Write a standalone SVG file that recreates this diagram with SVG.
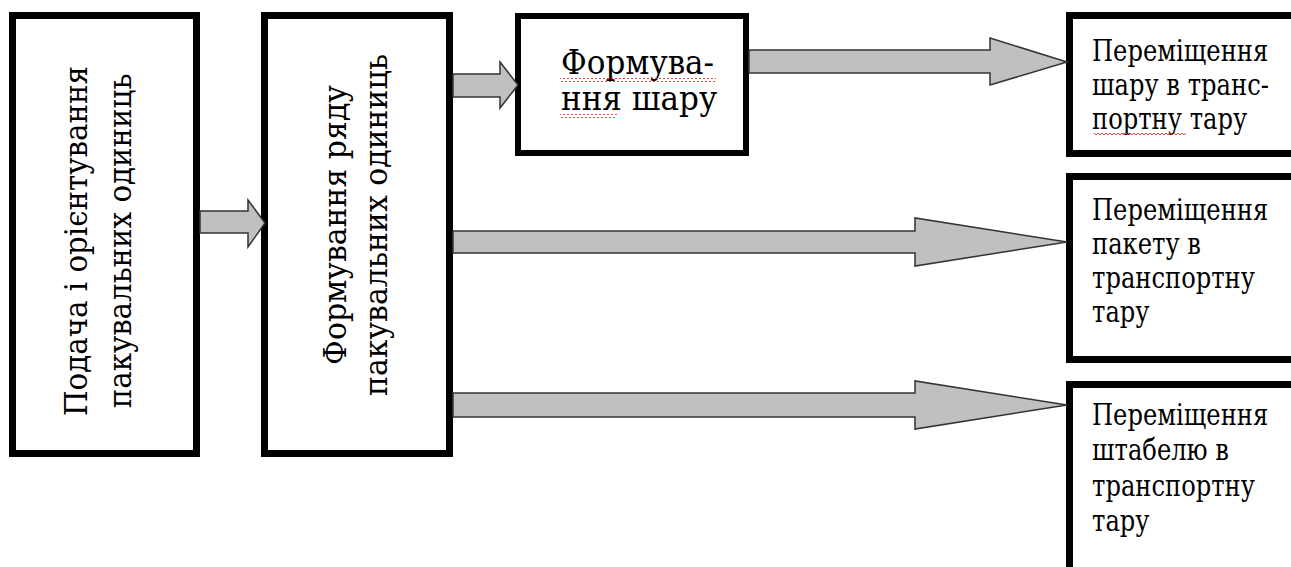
<svg xmlns="http://www.w3.org/2000/svg" width="1291" height="567" viewBox="0 0 1291 567">
<style>
.box{fill:#fff;stroke:#000;stroke-width:7}
.box3{fill:#fff;stroke:#000;stroke-width:6}
.arr{fill:#c0c0c0;stroke:#333;stroke-width:1.5;stroke-linejoin:miter}
text{font-family:'DejaVu Serif','Liberation Serif',serif;fill:#000}
.rot{font-size:32px;text-anchor:middle}
.big{font-size:33px}
.sm{font-size:29px}
</style>
<defs>
<pattern id="wave" x="0" y="0" width="4" height="4" patternUnits="userSpaceOnUse">
<path d="M0,3 L2,1 L4,3" fill="none" stroke="#e03030" stroke-width="0.9"/>
</pattern>
</defs>
<rect width="1291" height="567" fill="#fff"/>
<g id="n1">
<rect class="box" x="12.5" y="15.5" width="184" height="438"/>
<text class="rot" transform="translate(87,241) rotate(-90) scale(0.915,1)"><tspan x="0" y="0">Подача і орієнтування</tspan><tspan x="0" y="44">пакувальних  одиниць</tspan></text>
</g>
<g id="n2">
<rect class="box" x="264.5" y="15.5" width="185" height="438"/>
<text class="rot" transform="translate(346,225) rotate(-90) scale(0.935,1)"><tspan x="0" y="0">Формування ряду</tspan><tspan x="0" y="41">пакувальних  одиниць</tspan></text>
</g>
<g id="n3">
<rect class="box3" x="518" y="16" width="228" height="137"/>
<text class="big" transform="translate(561,0) scale(0.94,1)"><tspan x="0" y="74">Формува-</tspan><tspan x="0" y="110">ння шару</tspan></text>
<rect x="560" y="78" width="156" height="4" fill="url(#wave)"/>
<rect x="560" y="114" width="57" height="4" fill="url(#wave)"/>
</g>
<g id="n4">
<rect class="box" x="1069.5" y="15.5" width="240" height="138"/>
<text class="sm" transform="translate(1092,0) scale(0.835,1)"><tspan x="0" y="61">Переміщення</tspan><tspan x="0" y="95">шару в транс-</tspan><tspan x="0" y="129">портну тару</tspan></text>
<rect x="1094" y="131" width="92" height="4" fill="url(#wave)"/>
</g>
<g id="n5">
<rect class="box" x="1069.5" y="176.5" width="240" height="183"/>
<text class="sm" transform="translate(1092,0) scale(0.835,1)"><tspan x="0" y="220">Переміщення</tspan><tspan x="0" y="254">пакету в</tspan><tspan x="0" y="288">транспортну</tspan><tspan x="0" y="322">тару</tspan></text>
</g>
<g id="n6">
<rect class="box" x="1069.5" y="384.5" width="240" height="200"/>
<text class="sm" transform="translate(1092,0) scale(0.835,1)"><tspan x="0" y="425">Переміщення</tspan><tspan x="0" y="460">штабелю в</tspan><tspan x="0" y="496">транспортну</tspan><tspan x="0" y="531">тару</tspan></text>
</g>
<g id="connectors">
<polygon class="arr" points="200,211 248,211 248,200 265,223 248,247 248,233 200,233"/>
<polygon class="arr" points="453,74 500,74 500,62 518,85 500,108 500,97 453,97"/>
<polygon class="arr" points="749,50 990,50 990,38 1067,62 990,85 990,73 749,73"/>
<polygon class="arr" points="453,231 915,231 915,218 1067,242 915,266 915,253 453,253"/>
<polygon class="arr" points="453,393 915,393 915,381 1067,405 915,429 915,417 453,417"/>
</g>
</svg>
